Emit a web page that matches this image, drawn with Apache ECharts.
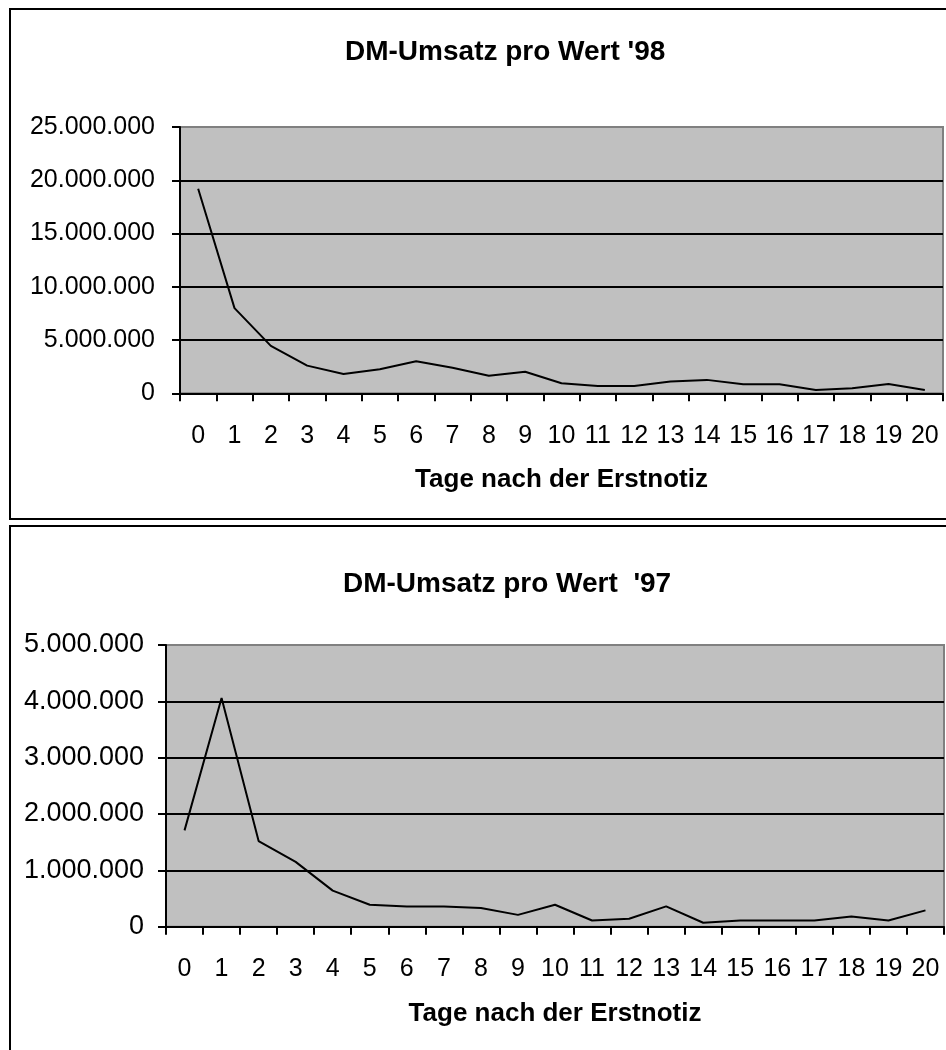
<!DOCTYPE html>
<html>
<head>
<meta charset="utf-8">
<script src="https://cdn.jsdelivr.net/npm/echarts@6/dist/echarts.min.js"></script>
<style>
html,body{margin:0;padding:0;background:#fff;}
#c{width:946px;height:1050px;}
</style>
</head>
<body>
<div id="c"></div>
<script>
var days = ['0','1','2','3','4','5','6','7','8','9','10','11','12','13','14','15','16','17','18','19','20'];
var umsatz98 = [19200000, 8000000, 4450000, 2600000, 1820000, 2250000, 3000000, 2400000, 1650000, 2030000, 950000, 680000, 680000, 1100000, 1260000, 860000, 860000, 300000, 480000, 880000, 320000];
var umsatz97 = [1710000, 4060000, 1520000, 1150000, 640000, 390000, 360000, 360000, 330000, 210000, 390000, 110000, 140000, 360000, 70000, 110000, 110000, 110000, 180000, 110000, 290000];
var title98 = "DM-Umsatz pro Wert '98";
var title97 = "DM-Umsatz pro Wert  '97";
var xName = 'Tage nach der Erstnotiz';

var FONT = '"Liberation Sans", Arial, sans-serif';
function fmt(v){ return String(v).replace(/\B(?=(\d{3})+(?!\d))/g, '.'); }

function xAxisOpt(gi){
  return {
    type:'category', gridIndex:gi, data:days, boundaryGap:true,
    name:xName, nameLocation:'middle', nameGap:74,
    nameTextStyle:{fontFamily:FONT, fontSize:26, fontWeight:'bold', color:'#000'},
    axisLine:{show:true, lineStyle:{color:'#000', width:2}},
    axisTick:{show:true, interval:0, length:8, lineStyle:{color:'#000', width:2}},
    axisLabel:{interval:0, margin:30, fontFamily:FONT, fontSize:25, color:'#000'},
    splitLine:{show:false}
  };
}
function yAxisOpt(gi, max, interval, margin, fs){
  return {
    type:'value', gridIndex:gi, min:0, max:max, interval:interval,
    axisLine:{show:true, lineStyle:{color:'#000', width:2}},
    axisTick:{show:true, length:8, lineStyle:{color:'#000', width:2}},
    axisLabel:{margin:margin, fontFamily:FONT, fontSize:fs, color:'#000', formatter:fmt},
    splitLine:{show:true, showMaxLine:false, showMinLine:false, lineStyle:{color:'#000', width:2}}
  };
}

var chart = echarts.init(document.getElementById('c'), null, {renderer:'canvas'});
chart.setOption({
  animation:false,
  backgroundColor:'#fff',
  graphic:[
    {type:'rect', shape:{x:10, y:9, width:960, height:510}, style:{fill:'none', stroke:'#000', lineWidth:2}, z:-1},
    {type:'rect', shape:{x:10, y:526, width:960, height:600}, style:{fill:'none', stroke:'#000', lineWidth:2}, z:-1}
  ],
  title:[
    {text:title98, left:340, top:33, textStyle:{fontFamily:FONT, fontSize:28, fontWeight:'bold', color:'#000'}},
    {text:title97, left:338, top:565, textStyle:{fontFamily:FONT, fontSize:28, fontWeight:'bold', color:'#000'}}
  ],
  grid:[
    {left:180, right:3, top:127, bottom:1050-393.3, show:true, backgroundColor:'#c0c0c0', borderColor:'#808080', borderWidth:2},
    {left:166, right:2, top:645, bottom:1050-926.7, show:true, backgroundColor:'#c0c0c0', borderColor:'#808080', borderWidth:2}
  ],
  xAxis:[xAxisOpt(0), xAxisOpt(1)],
  yAxis:[yAxisOpt(0, 25000000, 5000000, 25, 25), yAxisOpt(1, 5000000, 1000000, 22, 27)],
  series:[
    {type:'line', xAxisIndex:0, yAxisIndex:0, data:umsatz98, symbol:'none', lineStyle:{color:'#000', width:2}},
    {type:'line', xAxisIndex:1, yAxisIndex:1, data:umsatz97, symbol:'none', lineStyle:{color:'#000', width:2}}
  ]
});
</script>
</body>
</html>
